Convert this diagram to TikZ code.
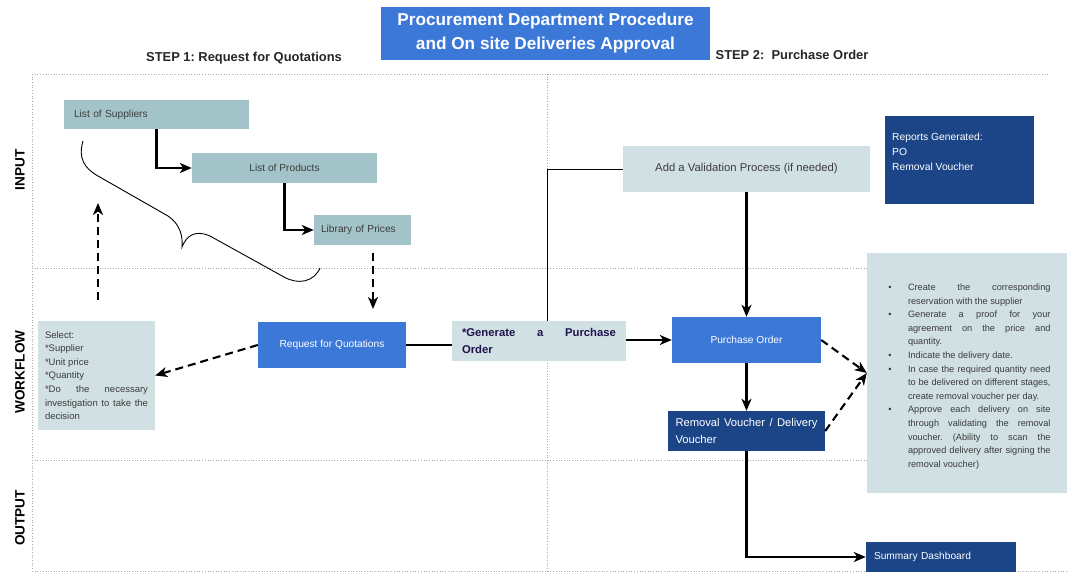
\documentclass[tikz,border=0pt]{standalone}
\usepackage{fontspec}
\setmainfont{Liberation Sans}
\usetikzlibrary{arrows.meta}
\frenchspacing
\definecolor{gblue}{RGB}{60,120,216}
\definecolor{gdark}{RGB}{28,69,135}
\definecolor{gteal}{RGB}{162,196,201}
\definecolor{glight}{RGB}{208,224,227}
\definecolor{gtext}{RGB}{60,60,60}
\definecolor{gnavy}{RGB}{32,18,77}
\definecolor{ggrid}{RGB}{170,170,170}
\begin{document}
\begin{tikzpicture}[x=1pt,y=-1pt,
  box/.style={rectangle, inner sep=0pt, draw=none},
  tealbox/.style={box, fill=gteal, text=gtext, font=\fontsize{10.2}{12}\selectfont},
  lightbox/.style={box, fill=glight, text=gtext},
  bluebox/.style={box, fill=gblue, text=white, font=\fontsize{10.2}{12}\selectfont},
  darkbox/.style={box, fill=gdark, text=white},
  gridline/.style={draw=ggrid, dotted, line width=0.7pt},
  lane/.style={rotate=90, font=\bfseries\fontsize{13.6}{15}\selectfont},
  steplbl/.style={font=\bfseries\fontsize{12.9}{15}\selectfont, text=black!85},
  arr/.style={draw=black, line width=2.1pt, -{Stealth[length=12pt,width=10pt,inset=3.5pt]}},
  darr/.style={arr, dash pattern=on 8pt off 5pt},
  plain/.style={draw=black, line width=2.1pt},
  thin/.style={draw=black, line width=0.9pt}
]
\useasboundingbox (0,0) rectangle (1067,572);

% grid
\draw[gridline] (32,74) -- (1048,74);
\draw[gridline] (32,74) -- (32,572);
\draw[gridline] (547,74) -- (547,572);
\draw[gridline] (32,268) -- (867,268);
\draw[gridline] (32,460) -- (867,460);
\draw[gridline] (32,571) -- (1067,571);

% title and headings
\node[box, fill=gblue, text=white, minimum width=329, minimum height=53, align=center,
  font=\bfseries\fontsize{17.2}{24}\selectfont] (title) at (545.5,33.5)
  {Procurement Department Procedure\\and On site Deliveries Approval};
\node[steplbl] (step1) at (244,58) {STEP 1: Request for Quotations};
\node[steplbl] (step2) at (792,55) {STEP 2:\ \ Purchase Order};

% lane labels
\node[lane] (linput) at (20,170) {INPUT};
\node[lane] (lwork) at (20,372) {WORKFLOW};
\node[lane] (lout) at (20,518) {OUTPUT};

% step 1 boxes
\node[tealbox, minimum width=185, minimum height=29, text width=165, align=left] (sup) at (156.5,114.5) {List of Suppliers};
\node[tealbox, minimum width=185, minimum height=30, align=center] (prod) at (284.5,168) {List of Products};
\node[tealbox, minimum width=97, minimum height=30, text width=83, align=left] (lib) at (362.5,230) {Library of Prices};

\node[lightbox, minimum width=117, minimum height=109, text width=103, align=justify,
  font=\fontsize{9.5}{13.6}\selectfont] (sel) at (96.5,375.5)
  {Select:\\{}*Supplier\\{}*Unit price\\{}*Quantity\\{}*Do the necessary\linebreak investigation to take the\linebreak decision};

\node[bluebox, minimum width=148, minimum height=46] (rfq) at (332,345) {Request for Quotations};

\node[lightbox, minimum width=174, minimum height=40, text width=154, align=justify, text=gnavy,
  font=\bfseries\fontsize{11.3}{17}\selectfont] (gen) at (539,341)
  {*Generate a Purchase\linebreak Order};

% step 2 boxes
\node[lightbox, minimum width=247, minimum height=46, font=\fontsize{11.3}{13}\selectfont] (val) at (746.5,169) {Add a Validation Process (if needed)};
\node[darkbox, minimum width=149, minimum height=88] (rep) at (959.5,160) {};
\node[anchor=north west, inner sep=0pt, text=white, align=left, font=\fontsize{10.3}{15}\selectfont] (reptxt) at (892,133) {Reports Generated:\\PO\\Removal Voucher};

\node[bluebox, minimum width=149, minimum height=46] (po) at (746.5,340) {Purchase Order};
\node[darkbox, minimum width=157, minimum height=40, text width=142, align=justify,
  font=\fontsize{11.2}{17}\selectfont] (rv) at (746.5,431) {Removal Voucher / Delivery\linebreak Voucher};

\node[lightbox, minimum width=200, minimum height=240, text width=167, align=justify,
  font=\fontsize{9.2}{13.6}\selectfont] (bul) at (967,373)
  {\emergencystretch=4pt
   \begin{list}{\textbullet}{\setlength{\leftmargin}{24.5pt}\setlength{\labelwidth}{3.5pt}\setlength{\labelsep}{16.5pt}\setlength{\itemsep}{0pt}\setlength{\topsep}{0pt}\setlength{\parsep}{0pt}\setlength{\partopsep}{0pt}}
   \item Create the corresponding\linebreak reservation with the supplier
   \item Generate a proof for your\linebreak agreement on the price and\linebreak quantity.
   \item Indicate the delivery date.
   \item In case the required quantity need\linebreak to be delivered on different stages,\linebreak create removal voucher per day.
   \item Approve each delivery on site\linebreak through validating the removal\linebreak voucher. (Ability to scan the\linebreak approved delivery after signing the\linebreak removal voucher)
   \end{list}};

\node[darkbox, minimum width=150, minimum height=30, text width=134, align=left,
  font=\fontsize{10.2}{12}\selectfont] (sum) at (941,557) {Summary Dashboard};

% brace
\draw[thin] (83,141) .. controls (78,158) and (84,168) .. (98,176)
  -- (168,216) .. controls (180,224) and (183,236) .. (182,247)
  .. controls (186,237) and (194,229) .. (210,236)
  -- (284,277) .. controls (298,285) and (314,282) .. (320,268);

% connectors
\coordinate (upstart) at (98,300);
\coordinate (upend) at (98,203);
\coordinate (dnstart) at (373,253);
\coordinate (dnend) at (373,309);

\draw[arr] (sup.south) |- (prod.west);
\draw[arr] (prod.south) |- (lib.west);
\draw[darr] (upstart) -- (upend);
\draw[darr] (dnstart) -- (dnend);
\draw[darr] (rfq.west) -- (sel.east);
\draw[plain] (rfq.east) -- (gen.west |- rfq.east);
\draw[arr] (gen.east |- po.west) -- (po.west);
\draw[thin] (val.west) -| ([xshift=8pt]gen.north);
\draw[arr] (val.south) -- (po.north);
\draw[arr] (po.south) -- (rv.north);
\draw[darr] (po.east) -- (bul.west);
\draw[darr] (rv.east) -- (bul.west);
\draw[arr] (rv.south) |- (sum.west);
\end{tikzpicture}
\end{document}
